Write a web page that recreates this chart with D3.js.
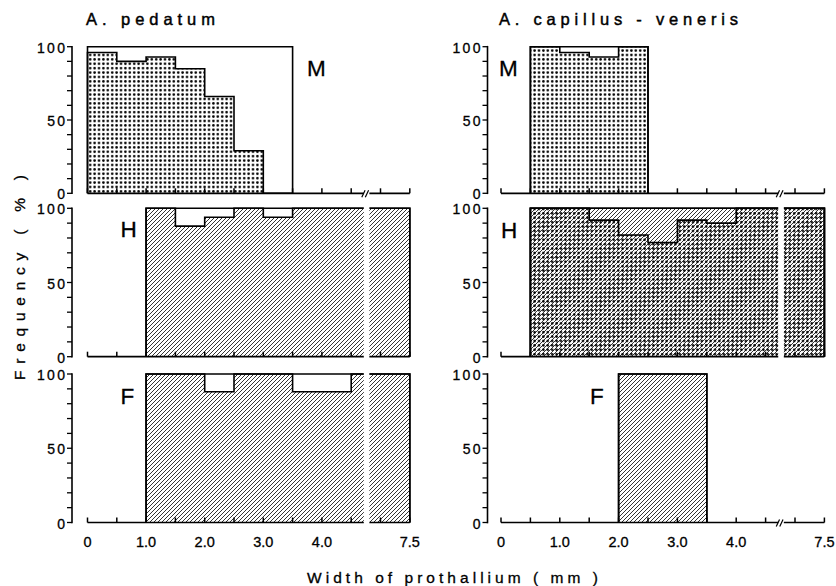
<!DOCTYPE html>
<html><head><meta charset="utf-8">
<script src="https://cdn.jsdelivr.net/npm/d3@7"></script>
<style>body{margin:0;background:#fff}svg{display:block}</style>
</head><body>
<svg id="c" width="836" height="586"></svg>
<script>
// ---- data ----
const binEdges = [0, 0.5, 1.0, 1.5, 2.0, 2.5, 3.0, 3.5, 4.0, 4.5, 7.0, 7.5];
const xTicks = [0, 0.5, 1.0, 1.5, 2.0, 2.5, 3.0, 3.5, 4.0, 4.5, 7.0, 7.5];
const xTickLabels = ["0", "", "1.0", "", "2.0", "", "3.0", "", "4.0", "", "", "7.5"];
const yTicks = [0, 10, 20, 30, 40, 50, 60, 70, 80, 90, 100];
const yTickLabels = ["0", "", "", "", "", "50", "", "", "", "", "100"];
const species = ["A. pedatum", "A. capillus - veneris"];
const sexes = ["M", "H", "F"];
// frequency (%) per width bin; null = no prothallia in that bin
const pedatumM_dots   = [96, 90, 93, 85, 66, 29, 0, null, null, null, null];
const pedatumH_hatch  = [null, null, 100, 88, 94, 100, 94, 100, 100, 100, 100];
const pedatumF_hatch  = [null, null, 100, 100, 88, 100, 100, 88, 88, 100, 100];
const capillusM_dots  = [null, 100, 96, 93, 100, null, null, null, null, null, null];
const capillusH_hatch = [null, 100, 100, 100, 100, 100, 100, 100, 100, 100, 100];
const capillusH_dots  = [null, 100, 100, 92, 82, 77, 92, 90, 100, 100, 100];
const capillusF_hatch = [null, null, null, null, 100, 100, 100, null, null, null, null];
const xTitle = "Width of prothallium ( mm )";
const yTitle = "Frequency ( % )";

// ---- drawing ----
const svg = d3.select("#c");
const defs = svg.append("defs");
const pd = defs.append("pattern").attr("id", "dots").attr("patternUnits", "userSpaceOnUse")
  .attr("width", 4.4).attr("height", 4.4);
pd.append("circle").attr("cx", 2.2).attr("cy", 2.2).attr("r", 1.3).attr("fill", "#000");
const ph = defs.append("pattern").attr("id", "hatch").attr("patternUnits", "userSpaceOnUse")
  .attr("width", 4).attr("height", 4);
ph.append("path").attr("d", "M-1,1 L1,-1 M0,4 L4,0 M3,5 L5,3")
  .attr("stroke", "#000").attr("stroke-width", 0.8).attr("fill", "none");

const cols = [
  {x0: 87.5, x1: 409.8, axisX: 72, title: species[0], tx: 86, tlen: 129},
  {x0: 501, x1: 824.4, axisX: 487.5, title: species[1], tx: 499, tlen: 239}
];
const rows = [
  {y0: 193.3, y1: 46.7},
  {y0: 356.7, y1: 208.3},
  {y0: 522.5, y1: 374}
];
const panels = [
  {col: 0, row: 0, lx: 307, ly: 76, layers: [{p: "dots", v: pedatumM_dots}]},
  {col: 0, row: 1, lx: 120.5, ly: 237, layers: [{p: "hatch", v: pedatumH_hatch}]},
  {col: 0, row: 2, lx: 120.5, ly: 404, layers: [{p: "hatch", v: pedatumF_hatch}]},
  {col: 1, row: 0, lx: 499, ly: 76, layers: [{p: "dots", v: capillusM_dots}]},
  {col: 1, row: 1, lx: 501, ly: 237.5, layers: [{p: "hatch", v: capillusH_hatch}, {p: "dots", v: capillusH_dots}]},
  {col: 1, row: 2, lx: 590, ly: 404, layers: [{p: "hatch", v: capillusF_hatch}]}
];

const font = "'Liberation Sans', Arial, sans-serif";
const line = d3.line();

function runs(values) {
  const out = []; let cur = null;
  values.forEach((v, i) => {
    if (v == null) { cur = null; return; }
    if (!cur) { cur = []; out.push(cur); }
    cur.push(i);
  });
  return out;
}
function stepPts(run, values, x, y) {
  const pts = [[x(binEdges[run[0]]), y(0)]];
  run.forEach(i => {
    pts.push([x(binEdges[i]), y(values[i])]);
    pts.push([x(binEdges[i + 1]), y(values[i])]);
  });
  pts.push([x(binEdges[run[run.length - 1] + 1]), y(0)]);
  return pts;
}
function txt(sel) {
  return sel.attr("font-family", font).attr("fill", "#000")
    .attr("stroke", "#000").attr("stroke-width", 0.3);
}

panels.forEach(P => {
  const C = cols[P.col], R = rows[P.row];
  const s = (C.x1 - C.x0) / 11;
  const x = d3.scaleLinear().domain([0, 4.5, 7.0, 7.5])
    .range([C.x0, C.x0 + 9 * s, C.x0 + 10 * s, C.x0 + 11 * s]);
  const y = d3.scaleLinear().domain([0, 100]).range([R.y0, R.y1]);
  const g = svg.append("g");

  // fills
  P.layers.forEach(L => {
    runs(L.v).forEach(run => {
      g.append("path").attr("d", line(stepPts(run, L.v, x, y)) + "Z")
        .attr("fill", "url(#" + L.p + ")").attr("stroke", "none");
    });
  });
  // step outlines
  P.layers.forEach(L => {
    runs(L.v).forEach(run => {
      g.append("path").attr("d", line(stepPts(run, L.v, x, y)))
        .attr("fill", "none").attr("stroke", "#000").attr("stroke-width", 1.6);
    });
  });
  // 100% frame over the occupied range
  const occ = [];
  P.layers.forEach(L => L.v.forEach((v, i) => { if (v != null) occ.push(i); }));
  const i0 = d3.min(occ), i1 = d3.max(occ) + 1;
  g.append("path")
    .attr("d", line([[x(binEdges[i0]), y(0)], [x(binEdges[i0]), y(100)], [x(binEdges[i1]), y(100)], [x(binEdges[i1]), y(0)]]))
    .attr("fill", "none").attr("stroke", "#000").attr("stroke-width", 1.6);

  // x axis
  g.append("line").attr("x1", x(0)).attr("x2", x(7.5)).attr("y1", y(0)).attr("y2", y(0))
    .attr("stroke", "#000").attr("stroke-width", 1.7);
  xTicks.forEach(t => {
    g.append("line").attr("x1", x(t)).attr("x2", x(t)).attr("y1", y(0)).attr("y2", y(0) - 5)
      .attr("stroke", "#000").attr("stroke-width", 1.5);
  });
  if (P.row === 2) {
    xTicks.forEach((t, i) => {
      if (!xTickLabels[i]) return;
      txt(g.append("text")).attr("x", x(t)).attr("y", 546.5).attr("text-anchor", "middle")
        .attr("font-size", 14.5).text(xTickLabels[i]);
    });
  }
  // y axis
  g.append("line").attr("x1", C.axisX).attr("x2", C.axisX).attr("y1", y(0) + 0.8).attr("y2", y(100) - 0.8)
    .attr("stroke", "#000").attr("stroke-width", 1.6);
  yTicks.forEach((t, i) => {
    g.append("line").attr("x1", C.axisX).attr("x2", C.axisX - 5).attr("y1", y(t)).attr("y2", y(t))
      .attr("stroke", "#000").attr("stroke-width", 1.3);
    if (yTickLabels[i]) {
      txt(g.append("text")).attr("x", C.axisX - 4.5).attr("y", y(t) + 6).attr("text-anchor", "end")
        .attr("font-size", 14).attr("letter-spacing", 2.4)
        .text(yTickLabels[i]);
    }
  });

  // axis break
  const gL = x(4.5) + 0.43 * (x(7.0) - x(4.5));
  const gR = x(4.5) + 0.62 * (x(7.0) - x(4.5));
  const filled = P.layers.some(L => L.v[9] != null);
  if (filled) {
    g.append("rect").attr("x", gL).attr("y", y(100) - 2).attr("width", gR - gL)
      .attr("height", y(0) - y(100) + 5).attr("fill", "#fff");
  } else {
    g.append("rect").attr("x", gL).attr("y", y(0) - 2).attr("width", gR - gL)
      .attr("height", 4).attr("fill", "#fff");
    [gL - 0.5, gL + 3].forEach(bx => {
      g.append("line").attr("x1", bx - 1.5).attr("y1", y(0) + 4).attr("x2", bx + 1.8).attr("y2", y(0) - 3)
        .attr("stroke", "#000").attr("stroke-width", 1.2);
    });
  }

  // sex label
  txt(g.append("text")).attr("x", P.lx).attr("y", P.ly)
    .attr("font-size", 22.5).text(sexes[P.row]);
});

// species titles
cols.forEach(C => {
  txt(svg.append("text")).attr("x", C.tx).attr("y", 25)
    .attr("font-size", 16.5).attr("stroke-width", 0.45).attr("textLength", C.tlen)
    .attr("lengthAdjust", "spacing").text(C.title);
});
// axis titles
txt(svg.append("text")).attr("x", 307).attr("y", 583).attr("font-size", 15.5)
  .attr("textLength", 291).attr("lengthAdjust", "spacing").text(xTitle);
txt(svg.append("text")).attr("transform", "translate(25,380) rotate(-90)")
  .attr("font-size", 15.5).attr("textLength", 205).attr("lengthAdjust", "spacing").text(yTitle);
</script>
</body></html>
